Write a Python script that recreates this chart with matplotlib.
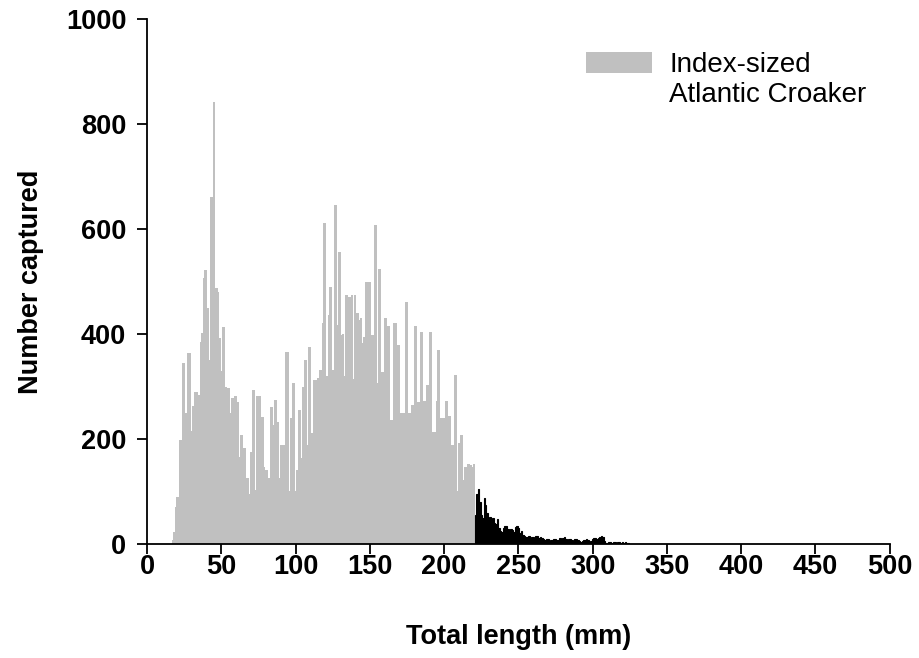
import numpy as np
import matplotlib
matplotlib.use("Agg")
import matplotlib.pyplot as plt

plt.rcParams["font.family"] = ["Liberation Sans", "DejaVu Sans"]

# index-sized fish, 1 mm bins from 17 mm to 220 mm
index_start = 17
index_counts = [
    8, 23, 70, 90, 90, 198, 198, 345, 345, 250,          # 17-26
    364, 364, 364, 216, 264, 290, 290, 290, 285, 385,    # 27-36
    402, 507, 522, 522, 450, 350, 661, 661, 842, 488,    # 37-46
    488, 480, 392, 330, 413, 413, 300, 298, 298, 250,    # 47-56
    278, 278, 283, 283, 270, 166, 208, 208, 184, 184,    # 57-66
    126, 126, 95, 176, 293, 293, 103, 283, 283, 282,     # 67-76
    242, 242, 147, 141, 141, 126, 261, 261, 227, 274,    # 77-86
    274, 232, 126, 189, 189, 189, 366, 366, 366, 101,    # 87-96
    240, 306, 306, 101, 141, 255, 255, 165, 299, 350,    # 97-106
    350, 189, 375, 375, 212, 312, 312, 312, 316, 331,    # 107-116
    331, 421, 611, 611, 320, 436, 490, 490, 331, 646,    # 117-126
    646, 417, 556, 556, 398, 400, 320, 474, 474, 470,    # 127-136
    470, 474, 315, 474, 440, 440, 427, 430, 383, 394,    # 137-146
    499, 499, 499, 499, 398, 398, 608, 608, 307, 524,    # 147-156
    524, 328, 328, 430, 430, 415, 415, 236, 236, 421,    # 157-166
    421, 421, 379, 379, 249, 249, 249, 461, 461, 249,    # 167-176
    249, 265, 265, 415, 415, 271, 271, 404, 404, 273,    # 177-186
    273, 303, 303, 404, 404, 213, 213, 213, 273, 369,    # 187-196
    369, 240, 240, 240, 273, 273, 245, 245, 189, 189,    # 197-206
    322, 322, 101, 192, 208, 208, 122, 147, 147, 153,    # 207-216
    153, 150, 147, 153,                                  # 217-220
]

# larger fish, 221 mm to 324 mm
large_start = 221
large_counts = [
    55, 95, 105, 80, 55, 50, 88, 75, 60, 48,    # 221-230
    52, 45, 50, 40, 38, 47, 30, 26, 24, 31,     # 231-240
    35, 34, 28, 25, 29, 27, 24, 33, 35, 30,     # 241-250
    22, 25, 18, 15, 14, 14, 15, 12, 14, 13,     # 251-260
    9, 15, 15, 11, 13, 12, 9, 8, 10, 9,         # 261-270
    6, 7, 8, 10, 9, 7, 8, 11, 9, 12,            # 271-280
    14, 10, 8, 9, 10, 8, 6, 9, 10, 7,           # 281-290
    6, 5, 6, 7, 8, 9, 8, 5, 6, 10,              # 291-300
    11, 12, 10, 11, 14, 15, 13, 6, 2, 1,        # 301-310
    4, 5, 3, 4, 5, 3, 4, 4, 3, 4,               # 311-320
    3, 4, 3, 2,                                 # 321-324
]

index_x = np.arange(index_start, index_start + len(index_counts))
large_x = np.arange(large_start, large_start + len(large_counts))

fig = plt.figure(figsize=(9.2, 6.58), dpi=100)
ax = fig.add_axes([0.16, 0.173, 0.807, 0.798])

ax.bar(index_x, index_counts, width=1.0, color="#c0c0c0", linewidth=0,
       label="Index-sized")
ax.bar(large_x, large_counts, width=1.0, color="black", edgecolor="black",
       linewidth=0.8)

ax.set_xlim(0, 500)
ax.set_ylim(0, 1000)
ax.set_xticks(range(0, 501, 50))
ax.set_yticks(range(0, 1001, 200))

for side in ("top", "right"):
    ax.spines[side].set_visible(False)
for side in ("left", "bottom"):
    ax.spines[side].set_linewidth(1.3)
ax.tick_params(direction="out", length=7, width=1.3, labelsize=19.5)
ax.tick_params(axis="x", pad=0)
ax.tick_params(axis="y", pad=8)
for lab in ax.get_xticklabels() + ax.get_yticklabels():
    lab.set_fontweight("bold")

ax.set_xlabel("Total length (mm)", fontsize=19.5, fontweight="bold", labelpad=32)
ax.set_ylabel("Number captured", fontsize=19.5, fontweight="bold", labelpad=16)

# legend: patch sits beside first line, second line underneath
ax.legend(loc="upper left", bbox_to_anchor=(0.557, 0.985), frameon=False,
          fontsize=20, handlelength=2.4, handleheight=0.8, handletextpad=0.6)
ax.text(0.7025, 0.855, "Atlantic Croaker", transform=ax.transAxes,
        fontsize=20, va="center", ha="left")

fig.savefig("out.png", dpi=100)
